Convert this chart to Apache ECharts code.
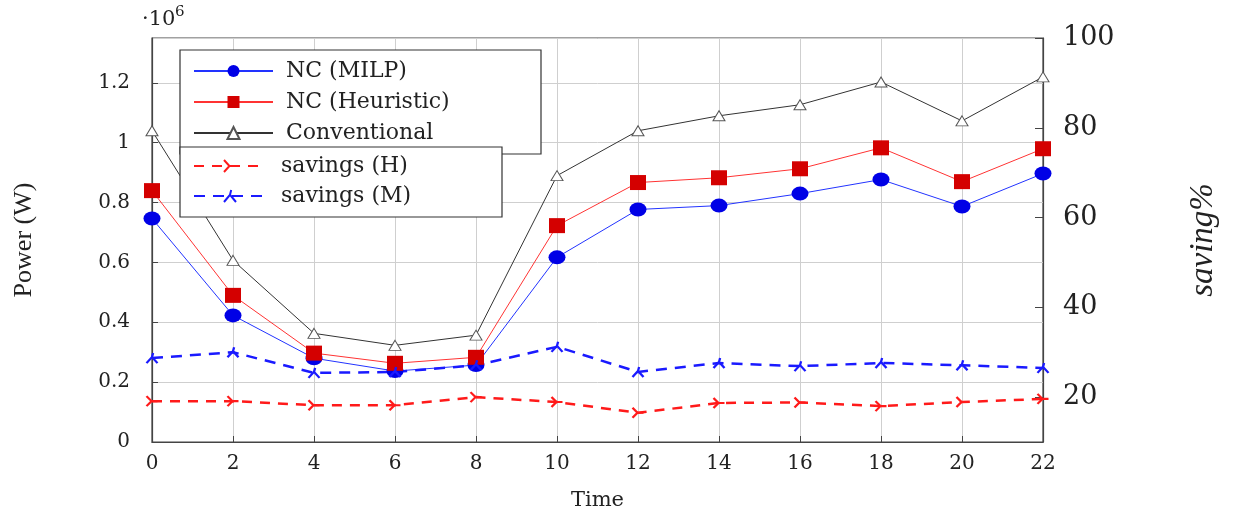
<!DOCTYPE html>
<html>
<head>
<meta charset="utf-8">
<script src="https://cdn.jsdelivr.net/npm/echarts@6/dist/echarts.min.js"></script>
<style>
  html, body { margin: 0; padding: 0; background: #fff; }
  #main { width: 1237px; height: 511px; }
</style>
</head>
<body>
<div id="main"></div>
<script>
// time of day (h)
var hours = [0, 2, 4, 6, 8, 10, 12, 14, 16, 18, 20, 22];
// power, in units of 10^6 W
var milp = [0.747, 0.423, 0.280, 0.237, 0.257, 0.617, 0.777, 0.790, 0.830, 0.877, 0.787, 0.897];
var heuristic = [0.840, 0.490, 0.297, 0.263, 0.283, 0.723, 0.867, 0.883, 0.913, 0.983, 0.870, 0.980];
var conventional = [1.040, 0.607, 0.363, 0.323, 0.357, 0.890, 1.040, 1.090, 1.127, 1.203, 1.073, 1.220];
// savings, %
var savingsH = [19.1, 19.1, 18.2, 18.2, 20.0, 18.9, 16.5, 18.7, 18.8, 18.0, 18.9, 19.6];
var savingsM = [28.7, 30.0, 25.4, 25.6, 27.1, 31.2, 25.6, 27.6, 26.9, 27.6, 27.1, 26.5];
var savingTicks = [20, 40, 60, 80, 100];

function pairs(vals) {
  return hours.map(function (h, i) { return [h, vals[i]]; });
}

var serif = 'DejaVu Serif';
var starRight = 'path://M0,0 L5,5 L0,10 M5,5 L11,5';
var starUp = 'path://M0,10 L5,4 L10,10 M5,4 L6,0';

var option = {
  animation: false,
  grid: {
    left: 152, right: 194, top: 38, bottom: 69,
    outerBoundsMode: 'none',
    show: true, borderColor: '#444', borderWidth: 1.2
  },
  graphic: [
    { type: 'text', left: 142, top: 9, style: { text: '·10', font: '21px "DejaVu Serif"', fill: '#222' } },
    { type: 'text', left: 175, top: 5, style: { text: '6', font: '15px "DejaVu Serif"', fill: '#222' } }
  ],
  legend: [
    {
      data: ['NC (MILP)', 'NC (Heuristic)', 'Conventional'],
      orient: 'vertical', left: 180, top: 50,
      padding: [10, 10, 10, 13],
      itemWidth: 79, itemHeight: 15, itemGap: 9,
      backgroundColor: '#fff', borderColor: '#333', borderWidth: 1.2,
      selectedMode: false,
      textStyle: { fontFamily: serif, fontSize: 22, lineHeight: 20, width: 245, padding: [0, 0, 0, 8], color: '#222' }
    },
    {
      data: ['savings (H)', 'savings (M)'],
      orient: 'vertical', left: 180, top: 147,
      padding: [8, 9, 10, 13],
      itemWidth: 72, itemHeight: 15, itemGap: 8,
      backgroundColor: '#fff', borderColor: '#333', borderWidth: 1.2,
      selectedMode: false,
      textStyle: { fontFamily: serif, fontSize: 22, lineHeight: 20, width: 212, padding: [0, 0, 0, 10], color: '#222' }
    }
  ],
  xAxis: {
    type: 'value', min: 0, max: 22, interval: 2,
    name: 'Time', nameLocation: 'middle', nameGap: 48,
    nameTextStyle: { fontFamily: serif, fontSize: 21, color: '#222' },
    axisLine: { lineStyle: { color: '#444', width: 1.2 } },
    axisTick: { inside: true, length: 6, lineStyle: { color: '#444' } },
    axisLabel: { fontFamily: serif, fontSize: 20, color: '#222', margin: 12 },
    splitLine: { show: true, lineStyle: { color: '#cfcfcf', width: 1 } }
  },
  yAxis: [
    {
      type: 'value', min: 0, max: 1.35, interval: 0.2,
      name: 'Power (W)', nameLocation: 'middle', nameRotate: 90, nameGap: 115,
      nameTextStyle: { fontFamily: 'Liberation Serif', fontSize: 26, color: '#222' },
      axisLine: { show: true, lineStyle: { color: '#444', width: 1.2 } },
      axisTick: { show: true, inside: true, length: 6, lineStyle: { color: '#444' } },
      axisLabel: { fontFamily: serif, fontSize: 20, color: '#222', margin: 22, showMaxLabel: false },
      splitLine: { show: true, lineStyle: { color: '#cfcfcf', width: 1 } }
    },
    {
      type: 'value', min: 10, max: 100, position: 'right',
      name: 'saving%', nameLocation: 'middle', nameRotate: 90, nameGap: 144,
      nameTextStyle: { fontFamily: 'Liberation Serif', fontStyle: 'italic', fontSize: 33, color: '#222' },
      axisLine: { show: true, lineStyle: { color: '#444', width: 1.2 } },
      axisTick: { show: true, inside: true, length: 8, customValues: savingTicks, lineStyle: { color: '#444' } },
      axisLabel: { fontFamily: serif, fontSize: 27, color: '#222', margin: 20, customValues: savingTicks },
      splitLine: { show: false }
    }
  ],
  series: [
    {
      name: 'NC (MILP)', type: 'line', data: pairs(milp),
      symbol: 'circle', symbolSize: [17, 14],
      lineStyle: { color: '#2233ff', width: 1 },
      itemStyle: { color: '#0000e6' }
    },
    {
      name: 'NC (Heuristic)', type: 'line', data: pairs(heuristic),
      symbol: 'rect', symbolSize: [16, 15],
      lineStyle: { color: '#ff3333', width: 1 },
      itemStyle: { color: '#d40000' }
    },
    {
      name: 'Conventional', type: 'line', data: pairs(conventional),
      symbol: 'triangle', symbolSize: [12, 10],
      lineStyle: { color: '#333', width: 1 },
      itemStyle: { color: '#fff', borderColor: '#555', borderWidth: 1 }
    },
    {
      name: 'savings (H)', type: 'line', yAxisIndex: 1, data: pairs(savingsH),
      symbol: starRight, symbolSize: [11, 10],
      lineStyle: { color: '#ff1a1a', width: 2.5, type: [10, 8] },
      itemStyle: { color: 'transparent', borderColor: '#ff1a1a', borderWidth: 2.2 }
    },
    {
      name: 'savings (M)', type: 'line', yAxisIndex: 1, data: pairs(savingsM),
      symbol: starUp, symbolSize: [11, 10],
      lineStyle: { color: '#1a1aff', width: 2.5, type: [11, 8] },
      itemStyle: { color: 'transparent', borderColor: '#1a1aff', borderWidth: 2.2 }
    }
  ]
};

var chart = echarts.init(document.getElementById('main'));
chart.setOption(option);
</script>
</body>
</html>
